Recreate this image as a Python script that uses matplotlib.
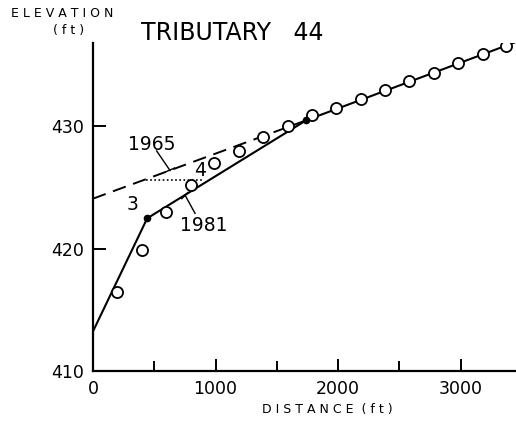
import matplotlib.pyplot as plt
from matplotlib.ticker import MultipleLocator

# surveyed points (1981), distance ft / elevation ft
dist_obs = [200, 400, 600, 800, 990, 1190, 1390, 1590, 1790, 1985,
            2185, 2385, 2580, 2780, 2980, 3180, 3370]
elev_obs = [416.5, 419.9, 423.0, 425.2, 427.0, 428.0, 429.1, 430.0, 430.9,
            431.5, 432.2, 433.0, 433.7, 434.4, 435.2, 435.9, 436.6]

# 1981 profile (solid) and 1965 profile (dashed)
dist_1981 = [0, 443, 1739, 3450]
elev_1981 = [413.25, 422.5, 430.5, 436.9]
dist_1965 = [0, 1739]
elev_1965 = [424.1, 430.5]

# knickpoints 3 and 4
knick_x = [443, 1739]
knick_y = [422.5, 430.5]
dotted_x = [430, 887]
dotted_y = [425.6, 425.6]

plt.rcParams['font.family'] = 'DejaVu Sans'

fig = plt.figure(figsize=(5.16, 4.23), dpi=100)
ax = fig.add_axes([0.180, 0.122, 0.82, 0.776])

ax.plot(dist_1981, elev_1981, color='black', lw=1.5, zorder=2)
ax.plot(dist_1965, elev_1965, color='black', lw=1.4, dashes=(7, 4), zorder=2)
ax.plot(dotted_x, dotted_y, color='black', lw=1.2, ls=(0, (1, 1.5)), zorder=2)
ax.plot(dist_obs, elev_obs, 'o', mfc='white', mec='black', mew=1.3, ms=8, zorder=3)
ax.plot(knick_x, knick_y, 'o', color='black', ms=4.5, zorder=4)

# labels with leader lines
ax.text(327, 423.6, '3', fontsize=13.5, ha='center', va='center')
ax.text(873, 426.4, '4', fontsize=13.5, ha='center', va='center')
ax.text(479, 428.5, '1965', fontsize=13.5, ha='center', va='center')
ax.plot([520, 629], [428.0, 426.4], color='black', lw=1)
ax.plot([595, 665], [426.3, 426.6], color='black', lw=1)
ax.text(900, 421.9, '1981', fontsize=13.5, ha='center', va='center')
ax.plot([751, 833], [424.4, 422.9], color='black', lw=1)
ax.plot([725, 775], [424.1, 424.6], color='black', lw=1)

ax.set_xlim(0, 3450)
ax.set_ylim(410, 436.8)
ax.xaxis.set_major_locator(MultipleLocator(1000))
ax.xaxis.set_minor_locator(MultipleLocator(500))
ax.yaxis.set_major_locator(MultipleLocator(10))

for side in ['top', 'right']:
    ax.spines[side].set_visible(False)
for side in ['left', 'bottom']:
    ax.spines[side].set_linewidth(1.6)

ax.tick_params(axis='both', which='major', direction='in', length=9, width=1.4,
               labelsize=12.5, pad=6)
ax.tick_params(axis='x', which='minor', direction='in', length=7, width=1.4)
ax.tick_params(axis='y', which='minor', left=False)

fig.text(0.120, 0.967, 'E L E V A T I O N', fontsize=9, ha='center', va='center')
fig.text(0.132, 0.929, '( f t )', fontsize=9, ha='center', va='center')
fig.text(0.450, 0.922, 'TRIBUTARY   44', fontsize=17, ha='center', va='center')
fig.text(0.634, 0.031, 'D I S T A N C E  ( f t )', fontsize=9, ha='center', va='center')

fig.savefig('out.png', dpi=100)
